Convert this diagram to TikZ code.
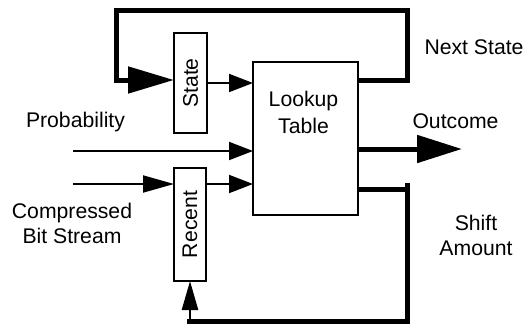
\documentclass[tikz,border=0pt]{standalone}
\usepackage{fontspec}
\setmainfont{Liberation Sans}
\usetikzlibrary{arrows.meta}
\begin{document}
\begin{tikzpicture}[x=1pt,y=-1pt,
  every node/.style={inner sep=0pt, outer sep=0pt},
  lblfont/.style={font=\fontsize{21.2}{25}\selectfont},
  txt/.style={lblfont, align=center, anchor=base},
  blockbox/.style={draw, line width=1.7pt, fill=white},
  sig/.style={line width=1.9pt, -{Triangle[length=24pt,width=18pt]}},
  bus/.style={line width=5pt, line join=miter},
  bigtip/.style={-{Triangle[length=46pt,width=26pt]}}
]
\useasboundingbox (0,0) rectangle (526,324);

% blocks
\node[blockbox, minimum width=105pt, minimum height=153pt] (lut) at (305.5,138.5) {};
\node[blockbox, lblfont, minimum width=33pt, minimum height=100pt] (state) at (190.5,83) {\rotatebox{90}{State}};
\node[blockbox, lblfont, minimum width=32pt, minimum height=113pt] (recent) at (190,224.5) {\rotatebox{90}{Recent}};
% multi-line labels are placed by the baseline of their last line
\node[txt] (lutlabel) at (303.5,133) {Lookup\\[2pt]Table};

% free ends of the connectors
\coordinate (ne) at (407,10);
\coordinate (nw) at (116,10);
\coordinate (pin) at (73,151);
\coordinate (cin) at (73,184);
\coordinate (out) at (462,149);
\coordinate (shtop) at (407,183);
\coordinate (shcorner) at (407,321);
\coordinate (shend) at (187,321);

% next state feedback
\draw[bus, bigtip] ([yshift=3pt]state.west -| lut.east) -| (ne) -- (nw) |- ([yshift=3pt]state.west);
% state into lookup
\draw[sig] (state.east) -- (state.east -| lut.west);
% probability input
\draw[sig] (pin) -- (pin -| lut.west);
% compressed bit stream into recent, then on to lookup
\draw[line width=1.9pt, -{Triangle[length=31pt,width=17pt]}] (cin) -- (cin -| recent.west);
\draw[sig] (cin -| recent.east) -- (cin -| lut.west);
% outcome
\draw[bus, -{Triangle[length=45pt,width=27pt]}] (out -| lut.east) -- (out);
% shift amount feedback
\draw[bus] (lut.east |- 0,189) -- (409.5,189);
\draw[bus] (shtop) -- (shcorner) -- (shend);
\draw[line width=2.5pt, -{Triangle[length=29pt,width=16pt]}] (shend -| recent.south) -- (recent.south);

% labels
\node[txt] (nextlbl) at (474,54) {Next State};
\node[txt] (problbl) at (75.5,127) {Probability};
\node[txt] (outlbl) at (455.5,128) {Outcome};
\node[txt] (cbslbl) at (72,243) {Compressed\\Bit Stream};
\node[txt] (shiftlbl) at (476,255) {Shift\\Amount};
\end{tikzpicture}
\end{document}
